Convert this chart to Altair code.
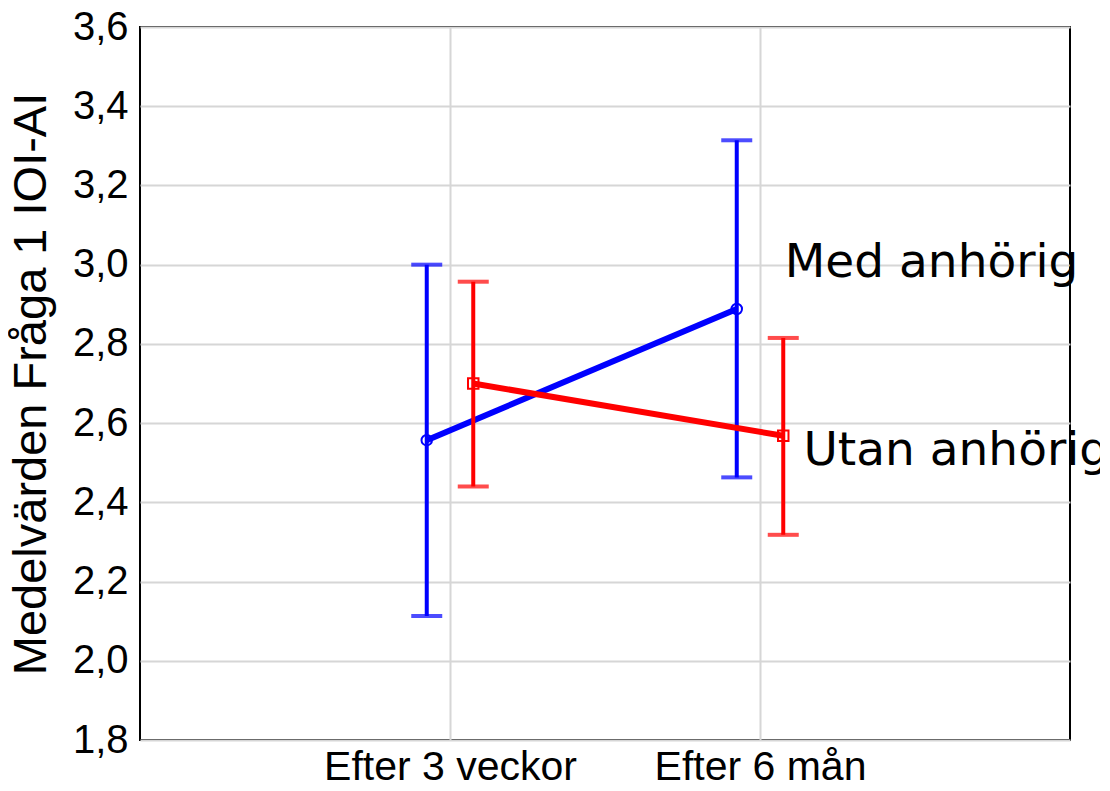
import altair as alt
import pandas as pd

categories = ["Efter 3 veckor", "Efter 6 mån"]
series = ["Med anhörig", "Utan anhörig"]
med_mean = [2.557, 2.888]
med_low = [2.113, 2.463]
med_high = [3.000, 3.314]
utan_mean = [2.700, 2.568]
utan_low = [2.440, 2.318]
utan_high = [2.957, 2.815]
y_ticks = [1.8, 2.0, 2.2, 2.4, 2.6, 2.8, 3.0, 3.2, 3.4, 3.6]
series_offset = [-0.075, 0.075]
colors = ["#0000ff", "#ff0000"]
shapes = ["circle", "square"]
label_x = [2.08, 2.14]
label_y = [2.968, 2.494]

rows = []
for s, off, means, lows, highs in zip(series, series_offset,
                                       [med_mean, utan_mean],
                                       [med_low, utan_low],
                                       [med_high, utan_high]):
    for i, c in enumerate(categories):
        rows.append(dict(series=s, cat=c, pos=i + 1 + off,
                         mean=means[i], lo=lows[i], hi=highs[i]))
df = pd.DataFrame(rows)
labels_df = pd.DataFrame({"series": series, "lx": label_x, "ly": label_y})

label_expr = " : ".join(
    f"datum.value == {i + 1} ? '{c}'" for i, c in enumerate(categories)
) + " : ''"

x_enc = alt.X("pos:Q", scale=alt.Scale(domain=[0, 3], nice=False, zero=False),
              axis=alt.Axis(values=[1, 2], labelExpr=label_expr, title=None,
                            grid=True, ticks=False, domain=False,
                            labelFontSize=41, labelPadding=7, labelLimit=0,
                            labelFont="Liberation Sans", labelColor="black",
                            gridColor="#d6d6d6", gridWidth=2))
y_scale = alt.Scale(domain=[1.8, 3.6], nice=False, zero=False)
y_axis = alt.Axis(values=y_ticks,
                  labelExpr="replace(format(datum.value, '.1f'), '.', ',')",
                  title="Medelvärden Fråga 1 IOI-AI", titleFontSize=47,
                  titleFont="Liberation Sans", titleFontWeight="normal",
                  titleColor="black", titlePadding=17, titleLimit=0,
                  labelFontSize=40, labelFont="Liberation Sans",
                  labelColor="black", labelPadding=12, labelLimit=0,
                  grid=True, ticks=False, domain=False,
                  gridColor="#d6d6d6", gridWidth=2)

layers = []
for s, col, shp in zip(series, colors, shapes):
    base = alt.Chart(df).transform_filter(alt.datum.series == s)
    line = base.mark_line(color=col, strokeWidth=6).encode(
        x=x_enc, y=alt.Y("mean:Q", scale=y_scale, axis=y_axis))
    rule = base.mark_rule(color=col, strokeWidth=4).encode(
        x="pos:Q", y="lo:Q", y2="hi:Q")
    cap_lo = base.mark_tick(color=col, orient="horizontal", size=31,
                            thickness=4).encode(x="pos:Q", y="lo:Q")
    cap_hi = base.mark_tick(color=col, orient="horizontal", size=31,
                            thickness=4).encode(x="pos:Q", y="hi:Q")
    pts = base.mark_point(color=col, shape=shp, filled=False, size=110,
                          strokeWidth=2, opacity=1).encode(x="pos:Q", y="mean:Q")
    layers += [line, rule, cap_lo, cap_hi, pts]

texts = alt.Chart(labels_df).mark_text(
    align="left", baseline="alphabetic", font="DejaVu Sans", fontSize=47,
    color="black").encode(x="lx:Q", y="ly:Q", text="series:N")
layers.append(texts)

chart = alt.layer(*layers).properties(
    width=930, height=713,
    background="white",
    autosize=alt.AutoSizeParams(type="none"),
    padding={"left": 132, "top": 19, "right": 30, "bottom": 42},
).configure_view(stroke="black", strokeWidth=2)

chart.save("out.html", embed_options={"renderer": "svg", "actions": False})
